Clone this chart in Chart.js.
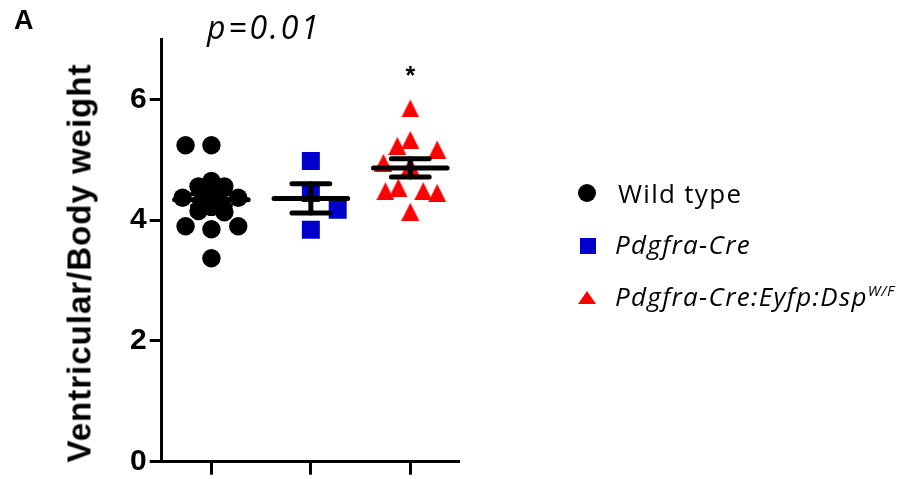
<!DOCTYPE html>
<html>
<head>
<meta charset="utf-8">
<script src="https://cdn.jsdelivr.net/npm/chart.js@4.4.1/dist/chart.umd.min.js"></script>
<style>
  html, body { margin: 0; padding: 0; background: #fff; }
  #wrap { position: relative; width: 910px; height: 479px; overflow: hidden; }
  #chart { position: absolute; left: 0; top: 0; }
  .txt { position: absolute; white-space: nowrap; line-height: 1; color: #000; }
  #panel { left: 14px; top: 7px; font-family: "Liberation Sans", Arial, sans-serif; font-weight: bold; font-size: 27px; }
  #pval { left: 207px; top: 11px; font-family: "Open Sans", sans-serif; font-style: italic; font-size: 32px; letter-spacing: 2.8px; }
  #ytitle { left: 79px; top: 263px; font-family: "Liberation Sans", Arial, sans-serif; font-weight: bold; font-size: 33px; letter-spacing: 1px;
            transform: translate(-50%, -50%) rotate(-90deg); }
  .leg { position: absolute; left: 615px; font-family: "Open Sans", sans-serif; font-style: italic; font-size: 26px; letter-spacing: 1.3px; line-height: 26px; white-space: nowrap; }
  .mk { position: absolute; }
  sup { font-size: 15px; vertical-align: 10px; line-height: 0; letter-spacing: 0.5px; }
</style>
</head>
<body>
<div id="wrap">
  <canvas id="chart" width="910" height="479"></canvas>
  <div class="txt" id="panel">A</div>
  <div class="txt" id="pval"></div>
  <div class="txt" id="ytitle">Ventricular/Body weight</div>
  <div id="legend"></div>
</div>
<script>
// ---- data
const groupNames = ['Wild type', 'Pdgfra-Cre', 'Pdgfra-Cre:Eyfp:Dsp'];
const groupColors = ['#000000', '#0000cc', '#ff0000'];

// Wild type (group 1)
const wtValues = [5.24, 5.24, 4.65, 4.56, 4.56, 4.47, 4.47, 4.37, 4.37, 4.38, 4.30, 4.28, 4.22, 4.15, 4.13, 3.90, 3.85, 3.90, 3.37];
const wtJitter = [-0.26, 0, 0, -0.13, 0.13, -0.07, 0.07, -0.29, 0.27, 0, -0.10, 0.10, 0, -0.13, 0.13, -0.26, 0, 0.27, 0];

// Pdgfra-Cre (group 2)
const creValues = [4.98, 4.45, 4.17, 3.84];
const creJitter = [0, 0, 0.27, 0];

// Pdgfra-Cre:Eyfp:Dsp W/F (group 3)
const dspValues = [5.85, 5.33, 5.23, 5.17, 4.95, 4.90, 4.48, 4.54, 4.48, 4.45, 4.14];
const dspJitter = [0, 0, -0.13, 0.27, -0.27, 0, -0.25, -0.12, 0.13, 0.27, 0];

const yTicks = [0, 2, 4, 6];
const xTicks = [1, 2, 3];
const pLabel = 'p=0.01';
const starLabel = '*';
const starY = 6.48;   // where the asterisk sits, y units

// ---- text bits
document.getElementById('pval').textContent = pLabel;

var legend = document.getElementById('legend');
legend.innerHTML =
  '<div class="mk" style="left:578px;top:184px;width:18px;height:18px;border-radius:50%;background:' + groupColors[0] + '"></div>' +
  '<div class="leg" style="left:618px;top:180px;font-style:normal">' + groupNames[0] + '</div>' +
  '<div class="mk" style="left:580px;top:238px;width:16px;height:16px;background:' + groupColors[1] + '"></div>' +
  '<div class="leg" style="top:231px">' + groupNames[1] + '</div>' +
  '<div class="mk" style="left:578px;top:291px;width:0;height:0;border-left:9.5px solid transparent;border-right:9.5px solid transparent;border-bottom:13px solid ' + groupColors[2] + '"></div>' +
  '<div class="leg" style="top:283px">' + groupNames[2] + '<sup>W/F</sup></div>';

// ---- build scatter points
function toPoints(group, values, jitter) {
  return values.map(function (v, i) { return { x: group + jitter[i], y: v }; });
}

// triangle drawn centred on its bounding box (like Prism does)
var tri = document.createElement('canvas');
tri.width = 18; tri.height = 18;
(function () {
  var c = tri.getContext('2d');
  c.fillStyle = groupColors[2];
  c.beginPath();
  c.moveTo(9, 0); c.lineTo(18, 18); c.lineTo(0, 18);
  c.closePath(); c.fill();
})();

// mean +/- SEM bars
const meanSem = {
  id: 'meanSem',
  afterDatasetsDraw(chart) {
    const ctx = chart.ctx, xs = chart.scales.x, ys = chart.scales.y;
    ctx.save();
    ctx.strokeStyle = '#000';
    ctx.lineWidth = 5;
    ctx.lineCap = 'round';
    [wtValues, creValues, dspValues].forEach(function (vals, gi) {
      const g = gi + 1;
      const n = vals.length;
      const mean = vals.reduce((a, b) => a + b, 0) / n;
      const sd = Math.sqrt(vals.reduce((a, b) => a + (b - mean) * (b - mean), 0) / (n - 1));
      const sem = sd / Math.sqrt(n);
      function seg(x1, y1, x2, y2) {
        ctx.beginPath();
        ctx.moveTo(xs.getPixelForValue(x1), ys.getPixelForValue(y1));
        ctx.lineTo(xs.getPixelForValue(x2), ys.getPixelForValue(y2));
        ctx.stroke();
      }
      seg(g - 0.37, mean, g + 0.37, mean);
      seg(g, mean - sem, g, mean + sem);
      seg(g - 0.19, mean + sem, g + 0.19, mean + sem);
      seg(g - 0.19, mean - sem, g + 0.19, mean - sem);
    });
    // significance star over group 3
    ctx.fillStyle = '#000';
    ctx.font = 'bold 25px "Liberation Sans", Arial, sans-serif';
    ctx.textAlign = 'center';
    ctx.textBaseline = 'alphabetic';
    ctx.fillText(starLabel, xs.getPixelForValue(3), ys.getPixelForValue(starY) + 14);
    ctx.restore();
  }
};

new Chart('chart', {
  type: 'scatter',
  data: {
    datasets: [
      { label: groupNames[0], data: toPoints(1, wtValues, wtJitter), pointStyle: 'circle', pointRadius: 9.2,
        backgroundColor: groupColors[0], borderWidth: 0 },
      { label: groupNames[1], data: toPoints(2, creValues, creJitter), pointStyle: 'rect', pointRadius: 12.7,
        backgroundColor: groupColors[1], borderWidth: 0 },
      { label: groupNames[2], data: toPoints(3, dspValues, dspJitter), pointStyle: tri, pointRadius: 9,
        backgroundColor: groupColors[2], borderWidth: 0 }
    ]
  },
  options: {
    responsive: false,
    animation: false,
    events: [],
    layout: { padding: { top: 39, left: 0, right: 450, bottom: 0 } },
    plugins: { legend: { display: false }, tooltip: { enabled: false } },
    scales: {
      x: {
        type: 'linear', min: 0.5, max: 3.5,
        afterBuildTicks: function (s) { s.ticks = xTicks.map(v => ({ value: v })); },
        afterFit: function (s) { s.height = 17.3; },
        border: { color: '#000', width: 3 },
        grid: { drawOnChartArea: false, drawTicks: true, tickLength: 13, tickWidth: 3, tickColor: '#000' },
        ticks: { display: false }
      },
      y: {
        min: 0, max: 7,
        afterBuildTicks: function (s) { s.ticks = yTicks.map(v => ({ value: v })); },
        afterFit: function (s) { s.width = 161.7; },
        border: { color: '#000', width: 3 },
        grid: { drawOnChartArea: false, drawTicks: true, tickLength: 12, tickWidth: 3, tickColor: '#000' },
        ticks: { color: '#000', padding: 3, font: { family: '"Liberation Sans", Arial, sans-serif', size: 30, weight: 'bold', lineHeight: 0.9 } }
      }
    }
  },
  plugins: [meanSem]
});
</script>
</body>
</html>
